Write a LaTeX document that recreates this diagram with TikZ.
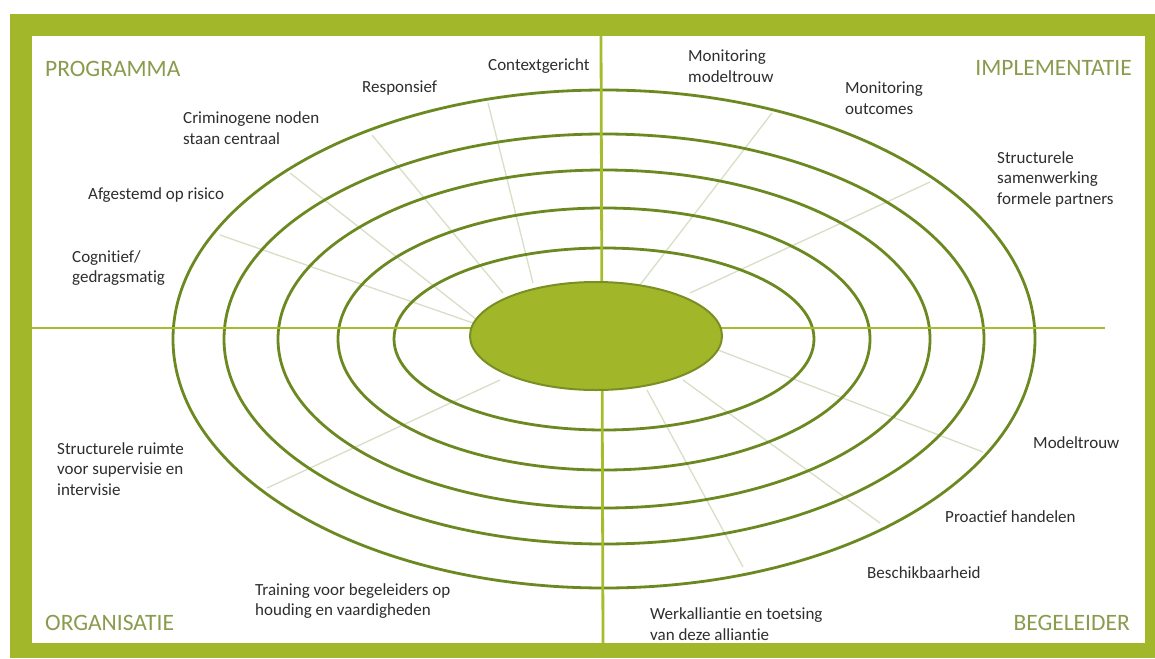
\documentclass[tikz,border=0pt]{standalone}
\usepackage{fontspec}
\usetikzlibrary{shapes.geometric}
\setmainfont{Carlito}[Ligatures=NoCommon]
\definecolor{framegreen}{HTML}{A3B72A}
\definecolor{ringgreen}{HTML}{6C8921}
\definecolor{axisgreen}{HTML}{A6BC2C}
\definecolor{corefill}{HTML}{A2B62A}
\definecolor{coreline}{HTML}{788F22}
\definecolor{spokegray}{HTML}{D8DFC6}
\definecolor{headcol}{HTML}{8A9B4E}
\definecolor{textcol}{HTML}{2E2E2E}
\tikzset{
  ring/.style={draw=ringgreen, line width=2.8pt},
  axisline/.style={draw=axisgreen, line width=2.8pt},
  spoke/.style={draw=spokegray, line width=1.3pt},
  lbl/.style={text=textcol, font=\fontsize{17}{20.5}\selectfont, align=left, inner sep=0pt},
  head/.style={text=headcol, font=\fontsize{23.5}{25}\selectfont, inner sep=0pt},
}
\begin{document}
\begin{tikzpicture}[x=1pt,y=-1pt]
\useasboundingbox (0,0) rectangle (1155,658);
% frame
\fill[framegreen] (10,14) rectangle (1155,658);
\fill[white] (32,36) rectangle (1145,643);
% faint spokes
\draw[spoke] (220,235) -- (473,323);
\draw[spoke] (290,173) -- (477,320);
\draw[spoke] (372,135) -- (503,293);
\draw[spoke] (488,103) -- (533,283);
\draw[spoke] (772,113) -- (640,285);
\draw[spoke] (930,182) -- (690,293);
\draw[spoke] (718,350) -- (983,452);
\draw[spoke] (683,380) -- (880,523);
\draw[spoke] (647,390) -- (743,567);
\draw[spoke] (267,488) -- (500,380);
% rings
\coordinate (c) at (604,339);
\draw[ring] (c) ellipse [x radius=431pt, y radius=249pt];
\draw[ring] (c) ellipse [x radius=380pt, y radius=205pt];
\draw[ring] (c) ellipse [x radius=326pt, y radius=169pt];
\draw[ring] (c) ellipse [x radius=266pt, y radius=131pt];
\draw[ring] (c) ellipse [x radius=210pt, y radius=91pt];
% axes
\coordinate (hl) at (32,328);
\coordinate (hr) at (1105,328);
\coordinate (vt) at (601,36);
\coordinate (vb) at (603,643);
\draw[axisline] (hl) -- (hr);
\draw[axisline] (vt) -- (vb);
% core
\node[draw=coreline, line width=2pt, fill=corefill, ellipse, minimum width=252pt, minimum height=108pt, inner sep=0pt] (core) at (596,336) {};
% headings
\node[head, anchor=west] (prog) at (45,69) {PROGRAMMA};
\node[head, anchor=east] (impl) at (1132,68) {IMPLEMENTATIE};
\node[head, anchor=west] (org) at (45,623) {ORGANISATIE};
\node[head, anchor=east] (beg) at (1130,623) {BEGELEIDER};
% labels
\node[lbl, anchor=west] (ctx) at (488,66) {Contextgericht};
\node[lbl, anchor=west] (resp) at (362,88) {Responsief};
\node[lbl, anchor=west] (crim) at (183,128) {Criminogene noden\\staan centraal};
\node[lbl, anchor=west] (afg) at (88,195) {Afgestemd op risico};
\node[lbl, anchor=west] (cogn) at (72,268) {Cognitief/\\gedragsmatig};
\node[lbl, anchor=west] (monm) at (688,66) {Monitoring\\modeltrouw};
\node[lbl, anchor=west] (mono) at (845,98) {Monitoring\\outcomes};
\node[lbl, anchor=west] (samw) at (997,179) {Structurele\\samenwerking\\formele partners};
\node[lbl, anchor=west] (modt) at (1033,443) {Modeltrouw};
\node[lbl, anchor=west] (proa) at (945,517) {Proactief handelen};
\node[lbl, anchor=west] (besc) at (867,573) {Beschikbaarheid};
\node[lbl, anchor=west] (werk) at (650,624) {Werkalliantie en toetsing\\van deze alliantie};
\node[lbl, anchor=west] (trai) at (255,601) {Training voor begeleiders op\\houding en vaardigheden};
\node[lbl, anchor=west] (ruim) at (57,469) {Structurele ruimte\\voor supervisie en\\intervisie};
\end{tikzpicture}
\end{document}
